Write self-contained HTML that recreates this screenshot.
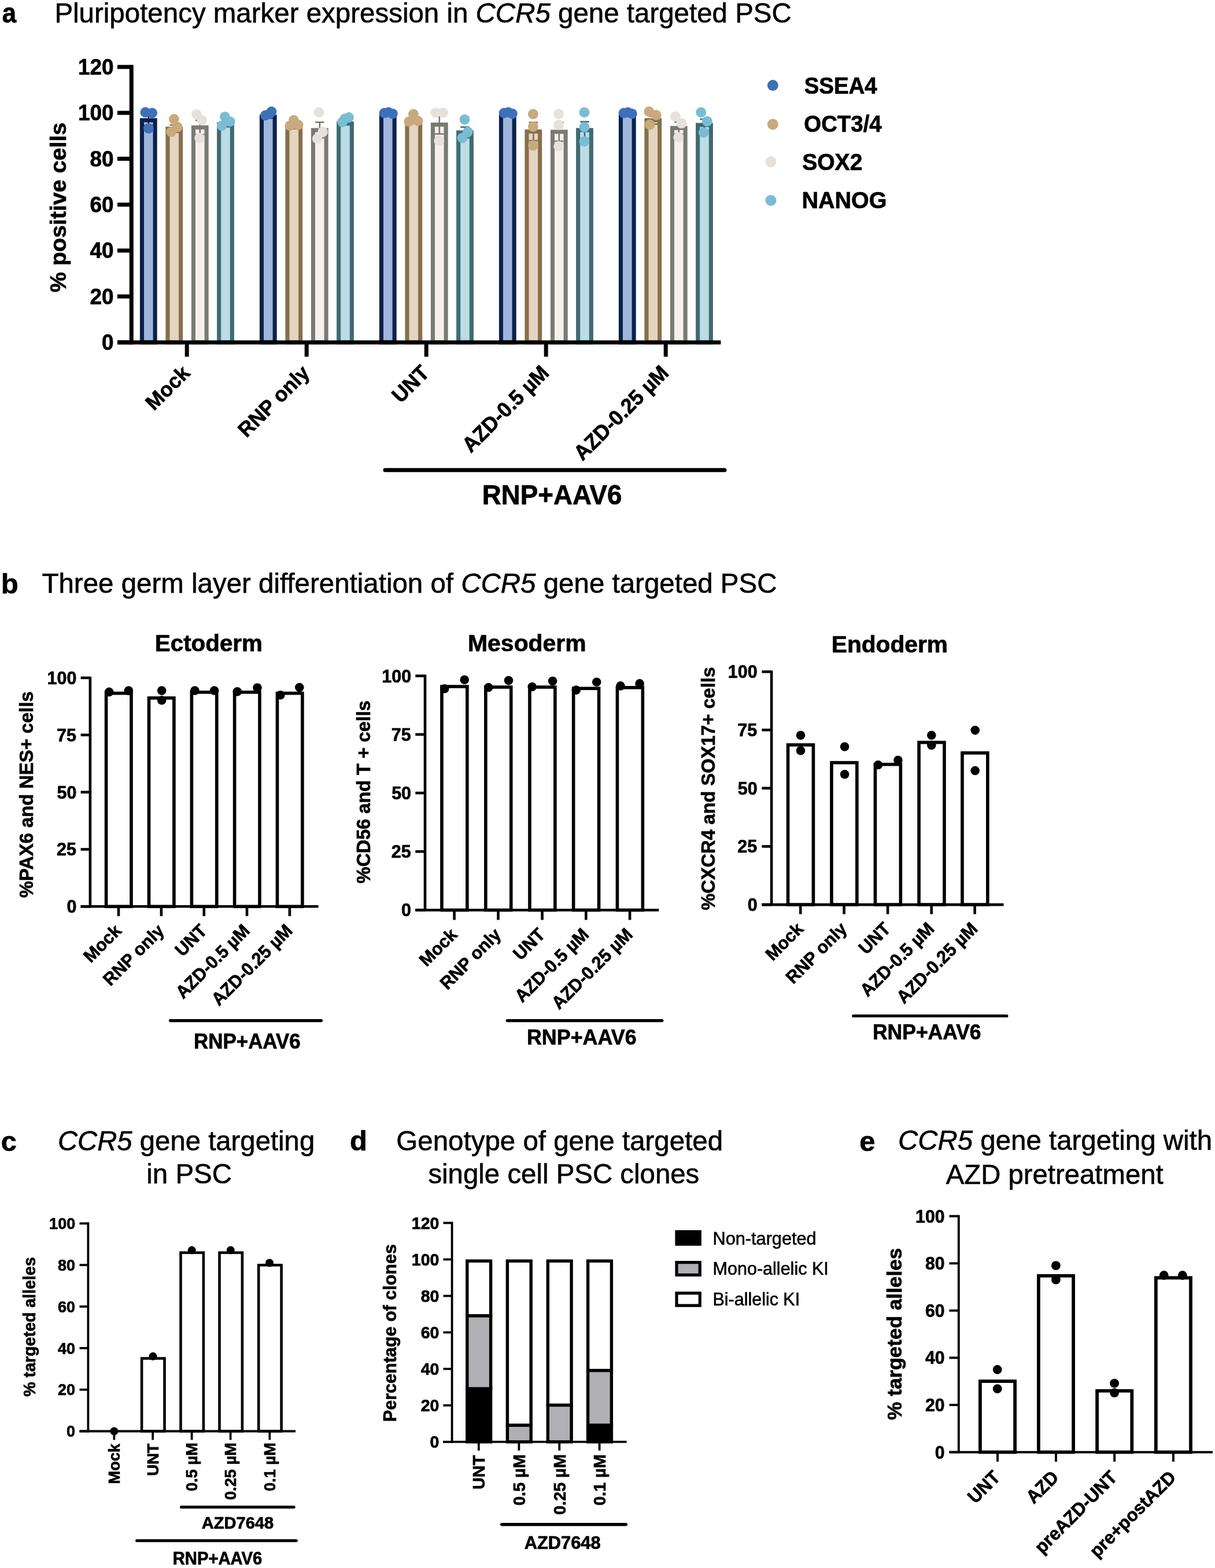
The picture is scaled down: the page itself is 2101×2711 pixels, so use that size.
<!DOCTYPE html>
<html><head><meta charset="utf-8"><title>Figure</title>
<style>html,body{margin:0;padding:0;background:#fff;}svg{display:block;}</style></head>
<body><svg width="2101" height="2711" viewBox="0 0 2101 2711" font-family="Liberation Sans, Arial, Helvetica, sans-serif" fill="#000">
<rect x="0" y="0" width="2101" height="2711" fill="#fff"/>
<text font-size="43.74" stroke="#000" stroke-width="0.7" transform="translate(3.69,39.00) scale(1,1.08)"><tspan font-weight="bold">a</tspan></text>
<text font-size="47.49" stroke="#000" stroke-width="0.6" transform="translate(94.40,39.00) scale(1,1.0065)">Pluripotency marker expression in <tspan font-style="italic">CCR5</tspan> gene targeted PSC</text>
<rect x="245.45" y="207.85" width="22.70" height="384.05" fill="#9fb6dc" stroke="#0c2149" stroke-width="7.1"/>
<rect x="289.95" y="222.55" width="22.70" height="369.35" fill="#e3d5c1" stroke="#86704a" stroke-width="7.1"/>
<rect x="334.45" y="220.25" width="22.70" height="371.65" fill="#f4f1ec" stroke="#7a7a74" stroke-width="7.1"/>
<rect x="378.65" y="214.85" width="22.70" height="377.05" fill="#bcdde6" stroke="#3f6b71" stroke-width="7.1"/>
<line x1="256.80" y1="198.78" x2="256.80" y2="216.92" stroke="#0c2149" stroke-width="2.6" stroke-linecap="butt"/>
<line x1="249.10" y1="198.78" x2="264.50" y2="198.78" stroke="#0c2149" stroke-width="2.6" stroke-linecap="butt"/>
<line x1="249.10" y1="216.92" x2="264.50" y2="216.92" stroke="#0c2149" stroke-width="2.6" stroke-linecap="butt"/>
<line x1="301.30" y1="216.17" x2="301.30" y2="228.93" stroke="#86704a" stroke-width="2.6" stroke-linecap="butt"/>
<line x1="293.60" y1="216.17" x2="309.00" y2="216.17" stroke="#86704a" stroke-width="2.6" stroke-linecap="butt"/>
<line x1="293.60" y1="228.93" x2="309.00" y2="228.93" stroke="#86704a" stroke-width="2.6" stroke-linecap="butt"/>
<line x1="345.80" y1="208.00" x2="345.80" y2="232.50" stroke="#7a7a74" stroke-width="2.6" stroke-linecap="butt"/>
<line x1="338.10" y1="208.00" x2="353.50" y2="208.00" stroke="#7a7a74" stroke-width="2.6" stroke-linecap="butt"/>
<line x1="338.10" y1="232.50" x2="353.50" y2="232.50" stroke="#7a7a74" stroke-width="2.6" stroke-linecap="butt"/>
<line x1="390.00" y1="210.40" x2="390.00" y2="219.30" stroke="#3f6b71" stroke-width="2.6" stroke-linecap="butt"/>
<line x1="382.30" y1="210.40" x2="397.70" y2="210.40" stroke="#3f6b71" stroke-width="2.6" stroke-linecap="butt"/>
<line x1="382.30" y1="219.30" x2="397.70" y2="219.30" stroke="#3f6b71" stroke-width="2.6" stroke-linecap="butt"/>
<circle cx="251.30" cy="194.20" r="8.9" fill="#3d70bb"/>
<circle cx="263.10" cy="195.40" r="8.9" fill="#3d70bb"/>
<circle cx="256.90" cy="222.00" r="8.9" fill="#3d70bb"/>
<circle cx="300.90" cy="206.00" r="8.9" fill="#c8aa7c"/>
<circle cx="306.80" cy="219.60" r="8.9" fill="#c8aa7c"/>
<circle cx="296.20" cy="227.90" r="8.9" fill="#c8aa7c"/>
<circle cx="339.90" cy="197.80" r="8.9" fill="#e6e1da"/>
<circle cx="349.30" cy="207.80" r="8.9" fill="#e6e1da"/>
<circle cx="345.20" cy="238.50" r="8.9" fill="#e6e1da"/>
<circle cx="388.90" cy="201.90" r="8.9" fill="#79bdd5"/>
<circle cx="397.70" cy="210.20" r="8.9" fill="#79bdd5"/>
<circle cx="383.60" cy="217.30" r="8.9" fill="#79bdd5"/>
<rect x="452.45" y="201.95" width="22.70" height="389.95" fill="#9fb6dc" stroke="#0c2149" stroke-width="7.1"/>
<rect x="496.95" y="219.55" width="22.70" height="372.35" fill="#e3d5c1" stroke="#86704a" stroke-width="7.1"/>
<rect x="541.45" y="224.95" width="22.70" height="366.95" fill="#f4f1ec" stroke="#7a7a74" stroke-width="7.1"/>
<rect x="585.65" y="213.55" width="22.70" height="378.35" fill="#bcdde6" stroke="#3f6b71" stroke-width="7.1"/>
<line x1="463.80" y1="200.06" x2="463.80" y2="203.84" stroke="#0c2149" stroke-width="2.6" stroke-linecap="butt"/>
<line x1="456.10" y1="200.06" x2="471.50" y2="200.06" stroke="#0c2149" stroke-width="2.6" stroke-linecap="butt"/>
<line x1="456.10" y1="203.84" x2="471.50" y2="203.84" stroke="#0c2149" stroke-width="2.6" stroke-linecap="butt"/>
<line x1="508.30" y1="216.58" x2="508.30" y2="222.52" stroke="#86704a" stroke-width="2.6" stroke-linecap="butt"/>
<line x1="500.60" y1="216.58" x2="516.00" y2="216.58" stroke="#86704a" stroke-width="2.6" stroke-linecap="butt"/>
<line x1="500.60" y1="222.52" x2="516.00" y2="222.52" stroke="#86704a" stroke-width="2.6" stroke-linecap="butt"/>
<line x1="552.80" y1="211.32" x2="552.80" y2="238.58" stroke="#7a7a74" stroke-width="2.6" stroke-linecap="butt"/>
<line x1="545.10" y1="211.32" x2="560.50" y2="211.32" stroke="#7a7a74" stroke-width="2.6" stroke-linecap="butt"/>
<line x1="545.10" y1="238.58" x2="560.50" y2="238.58" stroke="#7a7a74" stroke-width="2.6" stroke-linecap="butt"/>
<line x1="597.00" y1="211.18" x2="597.00" y2="215.92" stroke="#3f6b71" stroke-width="2.6" stroke-linecap="butt"/>
<line x1="589.30" y1="211.18" x2="604.70" y2="211.18" stroke="#3f6b71" stroke-width="2.6" stroke-linecap="butt"/>
<line x1="589.30" y1="215.92" x2="604.70" y2="215.92" stroke="#3f6b71" stroke-width="2.6" stroke-linecap="butt"/>
<circle cx="458.90" cy="199.50" r="8.9" fill="#3d70bb"/>
<circle cx="469.50" cy="193.00" r="8.9" fill="#3d70bb"/>
<circle cx="466.00" cy="197.00" r="8.9" fill="#3d70bb"/>
<circle cx="507.90" cy="207.80" r="8.9" fill="#c8aa7c"/>
<circle cx="515.60" cy="216.00" r="8.9" fill="#c8aa7c"/>
<circle cx="501.40" cy="217.30" r="8.9" fill="#c8aa7c"/>
<circle cx="551.60" cy="194.20" r="8.9" fill="#e6e1da"/>
<circle cx="558.10" cy="227.90" r="8.9" fill="#e6e1da"/>
<circle cx="548.70" cy="239.70" r="8.9" fill="#e6e1da"/>
<circle cx="596.50" cy="205.40" r="8.9" fill="#79bdd5"/>
<circle cx="603.00" cy="203.00" r="8.9" fill="#79bdd5"/>
<circle cx="592.00" cy="211.00" r="8.9" fill="#79bdd5"/>
<rect x="659.45" y="197.15" width="22.70" height="394.75" fill="#9fb6dc" stroke="#0c2149" stroke-width="7.1"/>
<rect x="703.95" y="208.35" width="22.70" height="383.55" fill="#e3d5c1" stroke="#86704a" stroke-width="7.1"/>
<rect x="748.45" y="215.45" width="22.70" height="376.45" fill="#f4f1ec" stroke="#7a7a74" stroke-width="7.1"/>
<rect x="792.65" y="229.05" width="22.70" height="362.85" fill="#bcdde6" stroke="#3f6b71" stroke-width="7.1"/>
<line x1="715.30" y1="204.20" x2="715.30" y2="212.50" stroke="#86704a" stroke-width="2.6" stroke-linecap="butt"/>
<line x1="707.60" y1="204.20" x2="723.00" y2="204.20" stroke="#86704a" stroke-width="2.6" stroke-linecap="butt"/>
<line x1="707.60" y1="212.50" x2="723.00" y2="212.50" stroke="#86704a" stroke-width="2.6" stroke-linecap="butt"/>
<line x1="759.80" y1="199.32" x2="759.80" y2="231.58" stroke="#7a7a74" stroke-width="2.6" stroke-linecap="butt"/>
<line x1="752.10" y1="199.32" x2="767.50" y2="199.32" stroke="#7a7a74" stroke-width="2.6" stroke-linecap="butt"/>
<line x1="752.10" y1="231.58" x2="767.50" y2="231.58" stroke="#7a7a74" stroke-width="2.6" stroke-linecap="butt"/>
<line x1="804.00" y1="219.67" x2="804.00" y2="238.43" stroke="#3f6b71" stroke-width="2.6" stroke-linecap="butt"/>
<line x1="796.30" y1="219.67" x2="811.70" y2="219.67" stroke="#3f6b71" stroke-width="2.6" stroke-linecap="butt"/>
<line x1="796.30" y1="238.43" x2="811.70" y2="238.43" stroke="#3f6b71" stroke-width="2.6" stroke-linecap="butt"/>
<circle cx="664.70" cy="195.40" r="8.9" fill="#3d70bb"/>
<circle cx="671.80" cy="194.20" r="8.9" fill="#3d70bb"/>
<circle cx="678.90" cy="196.60" r="8.9" fill="#3d70bb"/>
<circle cx="714.90" cy="197.20" r="8.9" fill="#c8aa7c"/>
<circle cx="707.20" cy="210.20" r="8.9" fill="#c8aa7c"/>
<circle cx="722.60" cy="209.00" r="8.9" fill="#c8aa7c"/>
<circle cx="753.30" cy="194.80" r="8.9" fill="#e6e1da"/>
<circle cx="766.30" cy="194.80" r="8.9" fill="#e6e1da"/>
<circle cx="759.20" cy="243.20" r="8.9" fill="#e6e1da"/>
<circle cx="803.50" cy="206.60" r="8.9" fill="#79bdd5"/>
<circle cx="808.80" cy="227.90" r="8.9" fill="#79bdd5"/>
<circle cx="799.40" cy="238.50" r="8.9" fill="#79bdd5"/>
<rect x="866.45" y="197.15" width="22.70" height="394.75" fill="#9fb6dc" stroke="#0c2149" stroke-width="7.1"/>
<rect x="910.95" y="227.35" width="22.70" height="364.55" fill="#e3d5c1" stroke="#86704a" stroke-width="7.1"/>
<rect x="955.45" y="227.85" width="22.70" height="364.05" fill="#f4f1ec" stroke="#7a7a74" stroke-width="7.1"/>
<rect x="999.65" y="224.95" width="22.70" height="366.95" fill="#bcdde6" stroke="#3f6b71" stroke-width="7.1"/>
<line x1="922.30" y1="211.57" x2="922.30" y2="243.13" stroke="#86704a" stroke-width="2.6" stroke-linecap="butt"/>
<line x1="914.60" y1="211.57" x2="930.00" y2="211.57" stroke="#86704a" stroke-width="2.6" stroke-linecap="butt"/>
<line x1="914.60" y1="243.13" x2="930.00" y2="243.13" stroke="#86704a" stroke-width="2.6" stroke-linecap="butt"/>
<line x1="966.80" y1="211.55" x2="966.80" y2="244.15" stroke="#7a7a74" stroke-width="2.6" stroke-linecap="butt"/>
<line x1="959.10" y1="211.55" x2="974.50" y2="211.55" stroke="#7a7a74" stroke-width="2.6" stroke-linecap="butt"/>
<line x1="959.10" y1="244.15" x2="974.50" y2="244.15" stroke="#7a7a74" stroke-width="2.6" stroke-linecap="butt"/>
<line x1="1011.00" y1="210.46" x2="1011.00" y2="239.44" stroke="#3f6b71" stroke-width="2.6" stroke-linecap="butt"/>
<line x1="1003.30" y1="210.46" x2="1018.70" y2="210.46" stroke="#3f6b71" stroke-width="2.6" stroke-linecap="butt"/>
<line x1="1003.30" y1="239.44" x2="1018.70" y2="239.44" stroke="#3f6b71" stroke-width="2.6" stroke-linecap="butt"/>
<circle cx="871.70" cy="195.40" r="8.9" fill="#3d70bb"/>
<circle cx="878.80" cy="194.20" r="8.9" fill="#3d70bb"/>
<circle cx="885.90" cy="196.60" r="8.9" fill="#3d70bb"/>
<circle cx="921.90" cy="197.20" r="8.9" fill="#c8aa7c"/>
<circle cx="921.90" cy="219.00" r="8.9" fill="#c8aa7c"/>
<circle cx="921.90" cy="251.50" r="8.9" fill="#c8aa7c"/>
<circle cx="966.20" cy="197.20" r="8.9" fill="#e6e1da"/>
<circle cx="966.20" cy="216.00" r="8.9" fill="#e6e1da"/>
<circle cx="966.20" cy="252.70" r="8.9" fill="#e6e1da"/>
<circle cx="1010.50" cy="194.20" r="8.9" fill="#79bdd5"/>
<circle cx="1010.50" cy="219.60" r="8.9" fill="#79bdd5"/>
<circle cx="1010.50" cy="244.40" r="8.9" fill="#79bdd5"/>
<rect x="1073.45" y="197.15" width="22.70" height="394.75" fill="#9fb6dc" stroke="#0c2149" stroke-width="7.1"/>
<rect x="1117.95" y="207.85" width="22.70" height="384.05" fill="#e3d5c1" stroke="#86704a" stroke-width="7.1"/>
<rect x="1162.45" y="221.35" width="22.70" height="370.55" fill="#f4f1ec" stroke="#7a7a74" stroke-width="7.1"/>
<rect x="1206.65" y="216.05" width="22.70" height="375.85" fill="#bcdde6" stroke="#3f6b71" stroke-width="7.1"/>
<line x1="1129.30" y1="201.11" x2="1129.30" y2="214.59" stroke="#86704a" stroke-width="2.6" stroke-linecap="butt"/>
<line x1="1121.60" y1="201.11" x2="1137.00" y2="201.11" stroke="#86704a" stroke-width="2.6" stroke-linecap="butt"/>
<line x1="1121.60" y1="214.59" x2="1137.00" y2="214.59" stroke="#86704a" stroke-width="2.6" stroke-linecap="butt"/>
<line x1="1173.80" y1="210.75" x2="1173.80" y2="231.95" stroke="#7a7a74" stroke-width="2.6" stroke-linecap="butt"/>
<line x1="1166.10" y1="210.75" x2="1181.50" y2="210.75" stroke="#7a7a74" stroke-width="2.6" stroke-linecap="butt"/>
<line x1="1166.10" y1="231.95" x2="1181.50" y2="231.95" stroke="#7a7a74" stroke-width="2.6" stroke-linecap="butt"/>
<line x1="1218.00" y1="205.95" x2="1218.00" y2="226.15" stroke="#3f6b71" stroke-width="2.6" stroke-linecap="butt"/>
<line x1="1210.30" y1="205.95" x2="1225.70" y2="205.95" stroke="#3f6b71" stroke-width="2.6" stroke-linecap="butt"/>
<line x1="1210.30" y1="226.15" x2="1225.70" y2="226.15" stroke="#3f6b71" stroke-width="2.6" stroke-linecap="butt"/>
<circle cx="1078.70" cy="195.40" r="8.9" fill="#3d70bb"/>
<circle cx="1085.80" cy="194.20" r="8.9" fill="#3d70bb"/>
<circle cx="1092.90" cy="196.60" r="8.9" fill="#3d70bb"/>
<circle cx="1122.40" cy="193.00" r="8.9" fill="#c8aa7c"/>
<circle cx="1134.80" cy="198.90" r="8.9" fill="#c8aa7c"/>
<circle cx="1123.60" cy="215.50" r="8.9" fill="#c8aa7c"/>
<circle cx="1167.90" cy="201.30" r="8.9" fill="#e6e1da"/>
<circle cx="1178.50" cy="213.10" r="8.9" fill="#e6e1da"/>
<circle cx="1173.20" cy="237.30" r="8.9" fill="#e6e1da"/>
<circle cx="1212.20" cy="194.20" r="8.9" fill="#79bdd5"/>
<circle cx="1222.80" cy="209.60" r="8.9" fill="#79bdd5"/>
<circle cx="1216.90" cy="229.10" r="8.9" fill="#79bdd5"/>
<line x1="227.30" y1="112.20" x2="227.30" y2="595.40" stroke="#000" stroke-width="7" stroke-linecap="butt"/>
<line x1="203.00" y1="591.90" x2="1246.40" y2="591.90" stroke="#000" stroke-width="7" stroke-linecap="butt"/>
<line x1="203.00" y1="591.90" x2="227.30" y2="591.90" stroke="#000" stroke-width="7" stroke-linecap="butt"/>
<text font-size="37.00" stroke="#000" stroke-width="0.7" transform="translate(175.94,605.18) scale(1,1.04)"><tspan font-weight="bold">0</tspan></text>
<line x1="203.00" y1="512.54" x2="227.30" y2="512.54" stroke="#000" stroke-width="7" stroke-linecap="butt"/>
<text font-size="37.00" stroke="#000" stroke-width="0.7" transform="translate(155.41,525.82) scale(1,1.04)"><tspan font-weight="bold">20</tspan></text>
<line x1="203.00" y1="433.18" x2="227.30" y2="433.18" stroke="#000" stroke-width="7" stroke-linecap="butt"/>
<text font-size="37.00" stroke="#000" stroke-width="0.7" transform="translate(155.41,446.46) scale(1,1.04)"><tspan font-weight="bold">40</tspan></text>
<line x1="203.00" y1="353.82" x2="227.30" y2="353.82" stroke="#000" stroke-width="7" stroke-linecap="butt"/>
<text font-size="37.00" stroke="#000" stroke-width="0.7" transform="translate(155.41,367.10) scale(1,1.04)"><tspan font-weight="bold">60</tspan></text>
<line x1="203.00" y1="274.46" x2="227.30" y2="274.46" stroke="#000" stroke-width="7" stroke-linecap="butt"/>
<text font-size="37.00" stroke="#000" stroke-width="0.7" transform="translate(155.41,287.74) scale(1,1.04)"><tspan font-weight="bold">80</tspan></text>
<line x1="203.00" y1="195.10" x2="227.30" y2="195.10" stroke="#000" stroke-width="7" stroke-linecap="butt"/>
<text font-size="37.00" stroke="#000" stroke-width="0.7" transform="translate(134.88,208.38) scale(1,1.04)"><tspan font-weight="bold">100</tspan></text>
<line x1="203.00" y1="115.74" x2="227.30" y2="115.74" stroke="#000" stroke-width="7" stroke-linecap="butt"/>
<text font-size="37.00" stroke="#000" stroke-width="0.7" transform="translate(134.88,129.02) scale(1,1.04)"><tspan font-weight="bold">120</tspan></text>
<line x1="323.20" y1="591.90" x2="323.20" y2="616.70" stroke="#000" stroke-width="7" stroke-linecap="butt"/>
<line x1="530.20" y1="591.90" x2="530.20" y2="616.70" stroke="#000" stroke-width="7" stroke-linecap="butt"/>
<line x1="737.20" y1="591.90" x2="737.20" y2="616.70" stroke="#000" stroke-width="7" stroke-linecap="butt"/>
<line x1="944.20" y1="591.90" x2="944.20" y2="616.70" stroke="#000" stroke-width="7" stroke-linecap="butt"/>
<line x1="1151.20" y1="591.90" x2="1151.20" y2="616.70" stroke="#000" stroke-width="7" stroke-linecap="butt"/>
<text font-size="35.50" text-anchor="end" stroke="#000" stroke-width="0.7" transform="translate(330.40,647.00) rotate(-45) scale(1,1.01)"><tspan font-weight="bold">Mock</tspan></text>
<text font-size="35.50" text-anchor="end" stroke="#000" stroke-width="0.7" transform="translate(537.40,647.00) rotate(-45) scale(1,1.0171)"><tspan font-weight="bold">RNP only</tspan></text>
<text font-size="35.50" text-anchor="end" stroke="#000" stroke-width="0.7" transform="translate(744.40,647.00) rotate(-45) scale(1,1.04)"><tspan font-weight="bold">UNT</tspan></text>
<text font-size="35.50" text-anchor="end" stroke="#000" stroke-width="0.7" transform="translate(951.40,647.00) rotate(-45) scale(1,1.0356)"><tspan font-weight="bold">AZD-0.5 µM</tspan></text>
<text font-size="35.50" text-anchor="end" stroke="#000" stroke-width="0.7" transform="translate(1158.40,647.00) rotate(-45) scale(1,1.036)"><tspan font-weight="bold">AZD-0.25 µM</tspan></text>
<line x1="666.00" y1="812.80" x2="1253.00" y2="812.80" stroke="#000" stroke-width="7" stroke-linecap="round"/>
<text font-size="45.74" stroke="#000" stroke-width="0.7" transform="translate(833.63,872.20) scale(1,1.04)"><tspan font-weight="bold">RNP+AAV6</tspan></text>
<text font-size="39.46" stroke="#000" stroke-width="0.7" transform="translate(114.40,505.59) rotate(-90) scale(1,1.0029)"><tspan font-weight="bold">% positive cells</tspan></text>
<circle cx="1336.40" cy="147.60" r="9.5" fill="#3d70bb"/>
<text font-size="38.46" stroke="#000" stroke-width="0.7" transform="translate(1390.65,162.00) scale(1,1.04)"><tspan font-weight="bold">SSEA4</tspan></text>
<circle cx="1336.40" cy="214.90" r="9.5" fill="#c8aa7c"/>
<text font-size="38.41" stroke="#000" stroke-width="0.7" transform="translate(1390.26,228.30) scale(1,1.04)"><tspan font-weight="bold">OCT3/4</tspan></text>
<circle cx="1333.00" cy="279.70" r="9.5" fill="#e6e1da"/>
<text font-size="39.08" stroke="#000" stroke-width="0.7" transform="translate(1387.13,293.90) scale(1,1.04)"><tspan font-weight="bold">SOX2</tspan></text>
<circle cx="1333.00" cy="346.50" r="9.5" fill="#79bdd5"/>
<text font-size="39.50" stroke="#000" stroke-width="0.7" transform="translate(1386.53,360.30) scale(1,1.04)"><tspan font-weight="bold">NANOG</tspan></text>
<text font-size="49.11" stroke="#000" stroke-width="0.7" transform="translate(1.81,1025.50) scale(1,0.965)"><tspan font-weight="bold">b</tspan></text>
<text font-size="47.49" stroke="#000" stroke-width="0.6" transform="translate(72.45,1025.00) scale(1,1.0064)">Three germ layer differentiation of <tspan font-style="italic">CCR5</tspan> gene targeted PSC</text>
<text font-size="40.38" stroke="#000" stroke-width="0.7" transform="translate(267.78,1126.30) scale(1,1.005)"><tspan font-weight="bold">Ectoderm</tspan></text>
<rect x="183.60" y="1198.60" width="43.40" height="368.70" fill="#fff" stroke="#000" stroke-width="5.6"/>
<rect x="257.50" y="1206.80" width="43.40" height="360.50" fill="#fff" stroke="#000" stroke-width="5.6"/>
<rect x="331.40" y="1196.80" width="43.40" height="370.50" fill="#fff" stroke="#000" stroke-width="5.6"/>
<rect x="405.60" y="1196.80" width="43.40" height="370.50" fill="#fff" stroke="#000" stroke-width="5.6"/>
<rect x="479.50" y="1198.60" width="43.40" height="368.70" fill="#fff" stroke="#000" stroke-width="5.6"/>
<circle cx="188.70" cy="1196.40" r="7.8" fill="#000"/>
<circle cx="222.40" cy="1194.10" r="7.8" fill="#000"/>
<circle cx="279.70" cy="1194.10" r="7.8" fill="#000"/>
<circle cx="279.70" cy="1210.70" r="7.8" fill="#000"/>
<circle cx="336.90" cy="1194.00" r="7.8" fill="#000"/>
<circle cx="370.60" cy="1194.00" r="7.8" fill="#000"/>
<circle cx="410.30" cy="1195.80" r="7.8" fill="#000"/>
<circle cx="445.00" cy="1189.00" r="7.8" fill="#000"/>
<circle cx="484.80" cy="1201.70" r="7.8" fill="#000"/>
<circle cx="517.80" cy="1188.50" r="7.8" fill="#000"/>
<line x1="155.90" y1="1169.90" x2="155.90" y2="1569.30" stroke="#000" stroke-width="4.6" stroke-linecap="butt"/>
<line x1="139.60" y1="1567.30" x2="550.50" y2="1567.30" stroke="#000" stroke-width="4.6" stroke-linecap="butt"/>
<line x1="139.60" y1="1567.30" x2="155.90" y2="1567.30" stroke="#000" stroke-width="4.6" stroke-linecap="butt"/>
<text font-size="30.50" stroke="#000" stroke-width="0.7" transform="translate(115.39,1578.24) scale(1,1.04)"><tspan font-weight="bold">0</tspan></text>
<line x1="139.60" y1="1468.45" x2="155.90" y2="1468.45" stroke="#000" stroke-width="4.6" stroke-linecap="butt"/>
<text font-size="30.50" stroke="#000" stroke-width="0.7" transform="translate(98.01,1479.39) scale(1,1.04)"><tspan font-weight="bold">25</tspan></text>
<line x1="139.60" y1="1369.60" x2="155.90" y2="1369.60" stroke="#000" stroke-width="4.6" stroke-linecap="butt"/>
<text font-size="30.50" stroke="#000" stroke-width="0.7" transform="translate(98.46,1380.54) scale(1,1.04)"><tspan font-weight="bold">50</tspan></text>
<line x1="139.60" y1="1270.75" x2="155.90" y2="1270.75" stroke="#000" stroke-width="4.6" stroke-linecap="butt"/>
<text font-size="30.50" stroke="#000" stroke-width="0.7" transform="translate(98.01,1281.53) scale(1,1.04)"><tspan font-weight="bold">75</tspan></text>
<line x1="139.60" y1="1171.90" x2="155.90" y2="1171.90" stroke="#000" stroke-width="4.6" stroke-linecap="butt"/>
<text font-size="30.50" stroke="#000" stroke-width="0.7" transform="translate(81.54,1182.84) scale(1,1.04)"><tspan font-weight="bold">100</tspan></text>
<line x1="205.00" y1="1567.30" x2="205.00" y2="1583.90" stroke="#000" stroke-width="4.6" stroke-linecap="butt"/>
<line x1="278.90" y1="1567.30" x2="278.90" y2="1583.90" stroke="#000" stroke-width="4.6" stroke-linecap="butt"/>
<line x1="352.80" y1="1567.30" x2="352.80" y2="1583.90" stroke="#000" stroke-width="4.6" stroke-linecap="butt"/>
<line x1="427.00" y1="1567.30" x2="427.00" y2="1583.90" stroke="#000" stroke-width="4.6" stroke-linecap="butt"/>
<line x1="500.90" y1="1567.30" x2="500.90" y2="1583.90" stroke="#000" stroke-width="4.6" stroke-linecap="butt"/>
<text font-size="30.30" text-anchor="end" stroke="#000" stroke-width="0.7" transform="translate(211.70,1611.20) rotate(-45) scale(1,1.01)"><tspan font-weight="bold">Mock</tspan></text>
<text font-size="30.30" text-anchor="end" stroke="#000" stroke-width="0.7" transform="translate(285.60,1611.20) rotate(-45) scale(1,1.0171)"><tspan font-weight="bold">RNP only</tspan></text>
<text font-size="30.30" text-anchor="end" stroke="#000" stroke-width="0.7" transform="translate(359.50,1611.20) rotate(-45) scale(1,1.04)"><tspan font-weight="bold">UNT</tspan></text>
<text font-size="30.30" text-anchor="end" stroke="#000" stroke-width="0.7" transform="translate(433.70,1611.20) rotate(-45) scale(1,1.0356)"><tspan font-weight="bold">AZD-0.5 µM</tspan></text>
<text font-size="30.30" text-anchor="end" stroke="#000" stroke-width="0.7" transform="translate(507.60,1611.20) rotate(-45) scale(1,1.036)"><tspan font-weight="bold">AZD-0.25 µM</tspan></text>
<line x1="294.60" y1="1764.60" x2="555.50" y2="1764.60" stroke="#000" stroke-width="5.2" stroke-linecap="round"/>
<text font-size="34.93" stroke="#000" stroke-width="0.7" transform="translate(335.03,1813.30) scale(1,1.04)"><tspan font-weight="bold">RNP+AAV6</tspan></text>
<text font-size="32.76" stroke="#000" stroke-width="0.7" transform="translate(57.40,1552.32) rotate(-90) scale(1,1.0212)"><tspan font-weight="bold">%PAX6 and NES+ cells</tspan></text>
<text font-size="40.92" stroke="#000" stroke-width="0.7" transform="translate(809.04,1126.30) scale(1,1.005)"><tspan font-weight="bold">Mesoderm</tspan></text>
<rect x="763.95" y="1187.00" width="43.90" height="386.50" fill="#fff" stroke="#000" stroke-width="5.6"/>
<rect x="839.85" y="1188.00" width="43.90" height="385.50" fill="#fff" stroke="#000" stroke-width="5.6"/>
<rect x="915.95" y="1188.00" width="43.90" height="385.50" fill="#fff" stroke="#000" stroke-width="5.6"/>
<rect x="991.65" y="1190.30" width="43.90" height="383.20" fill="#fff" stroke="#000" stroke-width="5.6"/>
<rect x="1067.45" y="1188.80" width="43.90" height="384.70" fill="#fff" stroke="#000" stroke-width="5.6"/>
<circle cx="768.70" cy="1190.80" r="7.8" fill="#000"/>
<circle cx="803.20" cy="1175.30" r="7.8" fill="#000"/>
<circle cx="844.80" cy="1188.50" r="7.8" fill="#000"/>
<circle cx="879.50" cy="1176.60" r="7.8" fill="#000"/>
<circle cx="920.20" cy="1187.50" r="7.8" fill="#000"/>
<circle cx="955.60" cy="1177.60" r="7.8" fill="#000"/>
<circle cx="996.30" cy="1193.10" r="7.8" fill="#000"/>
<circle cx="1031.70" cy="1179.20" r="7.8" fill="#000"/>
<circle cx="1073.00" cy="1185.90" r="7.8" fill="#000"/>
<circle cx="1106.10" cy="1181.90" r="7.8" fill="#000"/>
<line x1="735.00" y1="1166.60" x2="735.00" y2="1575.50" stroke="#000" stroke-width="4.6" stroke-linecap="butt"/>
<line x1="718.30" y1="1573.50" x2="1139.30" y2="1573.50" stroke="#000" stroke-width="4.6" stroke-linecap="butt"/>
<line x1="718.30" y1="1573.50" x2="735.00" y2="1573.50" stroke="#000" stroke-width="4.6" stroke-linecap="butt"/>
<text font-size="30.50" stroke="#000" stroke-width="0.7" transform="translate(694.09,1584.44) scale(1,1.04)"><tspan font-weight="bold">0</tspan></text>
<line x1="718.30" y1="1472.27" x2="735.00" y2="1472.27" stroke="#000" stroke-width="4.6" stroke-linecap="butt"/>
<text font-size="30.50" stroke="#000" stroke-width="0.7" transform="translate(676.71,1483.22) scale(1,1.04)"><tspan font-weight="bold">25</tspan></text>
<line x1="718.30" y1="1371.05" x2="735.00" y2="1371.05" stroke="#000" stroke-width="4.6" stroke-linecap="butt"/>
<text font-size="30.50" stroke="#000" stroke-width="0.7" transform="translate(677.16,1381.99) scale(1,1.04)"><tspan font-weight="bold">50</tspan></text>
<line x1="718.30" y1="1269.82" x2="735.00" y2="1269.82" stroke="#000" stroke-width="4.6" stroke-linecap="butt"/>
<text font-size="30.50" stroke="#000" stroke-width="0.7" transform="translate(676.71,1280.61) scale(1,1.04)"><tspan font-weight="bold">75</tspan></text>
<line x1="718.30" y1="1168.60" x2="735.00" y2="1168.60" stroke="#000" stroke-width="4.6" stroke-linecap="butt"/>
<text font-size="30.50" stroke="#000" stroke-width="0.7" transform="translate(660.24,1179.54) scale(1,1.04)"><tspan font-weight="bold">100</tspan></text>
<line x1="785.60" y1="1573.50" x2="785.60" y2="1590.50" stroke="#000" stroke-width="4.6" stroke-linecap="butt"/>
<line x1="861.50" y1="1573.50" x2="861.50" y2="1590.50" stroke="#000" stroke-width="4.6" stroke-linecap="butt"/>
<line x1="937.60" y1="1573.50" x2="937.60" y2="1590.50" stroke="#000" stroke-width="4.6" stroke-linecap="butt"/>
<line x1="1013.30" y1="1573.50" x2="1013.30" y2="1590.50" stroke="#000" stroke-width="4.6" stroke-linecap="butt"/>
<line x1="1089.10" y1="1573.50" x2="1089.10" y2="1590.50" stroke="#000" stroke-width="4.6" stroke-linecap="butt"/>
<text font-size="30.30" text-anchor="end" stroke="#000" stroke-width="0.7" transform="translate(792.30,1617.80) rotate(-45) scale(1,1.01)"><tspan font-weight="bold">Mock</tspan></text>
<text font-size="30.30" text-anchor="end" stroke="#000" stroke-width="0.7" transform="translate(868.20,1617.80) rotate(-45) scale(1,1.0171)"><tspan font-weight="bold">RNP only</tspan></text>
<text font-size="30.30" text-anchor="end" stroke="#000" stroke-width="0.7" transform="translate(944.30,1617.80) rotate(-45) scale(1,1.04)"><tspan font-weight="bold">UNT</tspan></text>
<text font-size="30.30" text-anchor="end" stroke="#000" stroke-width="0.7" transform="translate(1020.00,1617.80) rotate(-45) scale(1,1.0356)"><tspan font-weight="bold">AZD-0.5 µM</tspan></text>
<text font-size="30.30" text-anchor="end" stroke="#000" stroke-width="0.7" transform="translate(1095.80,1617.80) rotate(-45) scale(1,1.036)"><tspan font-weight="bold">AZD-0.25 µM</tspan></text>
<line x1="877.30" y1="1764.60" x2="1144.80" y2="1764.60" stroke="#000" stroke-width="5.2" stroke-linecap="round"/>
<text font-size="35.86" stroke="#000" stroke-width="0.7" transform="translate(910.97,1805.80) scale(1,1.04)"><tspan font-weight="bold">RNP+AAV6</tspan></text>
<text font-size="32.44" stroke="#000" stroke-width="0.7" transform="translate(639.50,1527.41) rotate(-90) scale(1,1.0187)"><tspan font-weight="bold">%CD56 and T + cells</tspan></text>
<text font-size="40.71" stroke="#000" stroke-width="0.7" transform="translate(1437.75,1128.00) scale(1,1.005)"><tspan font-weight="bold">Endoderm</tspan></text>
<rect x="1362.55" y="1287.90" width="43.90" height="276.20" fill="#fff" stroke="#000" stroke-width="5.6"/>
<rect x="1437.95" y="1318.60" width="43.90" height="245.50" fill="#fff" stroke="#000" stroke-width="5.6"/>
<rect x="1513.45" y="1321.60" width="43.90" height="242.50" fill="#fff" stroke="#000" stroke-width="5.6"/>
<rect x="1589.05" y="1283.60" width="43.90" height="280.50" fill="#fff" stroke="#000" stroke-width="5.6"/>
<rect x="1663.95" y="1301.80" width="43.90" height="262.30" fill="#fff" stroke="#000" stroke-width="5.6"/>
<circle cx="1384.50" cy="1271.20" r="7.8" fill="#000"/>
<circle cx="1384.50" cy="1297.70" r="7.8" fill="#000"/>
<circle cx="1460.60" cy="1291.00" r="7.8" fill="#000"/>
<circle cx="1460.60" cy="1338.70" r="7.8" fill="#000"/>
<circle cx="1518.50" cy="1322.50" r="7.8" fill="#000"/>
<circle cx="1552.90" cy="1314.20" r="7.8" fill="#000"/>
<circle cx="1610.80" cy="1271.20" r="7.8" fill="#000"/>
<circle cx="1610.80" cy="1288.40" r="7.8" fill="#000"/>
<circle cx="1686.20" cy="1262.60" r="7.8" fill="#000"/>
<circle cx="1686.20" cy="1332.40" r="7.8" fill="#000"/>
<line x1="1334.10" y1="1159.40" x2="1334.10" y2="1566.10" stroke="#000" stroke-width="4.6" stroke-linecap="butt"/>
<line x1="1317.40" y1="1564.10" x2="1735.50" y2="1564.10" stroke="#000" stroke-width="4.6" stroke-linecap="butt"/>
<line x1="1317.40" y1="1564.10" x2="1334.10" y2="1564.10" stroke="#000" stroke-width="4.6" stroke-linecap="butt"/>
<text font-size="30.50" stroke="#000" stroke-width="0.7" transform="translate(1292.69,1575.04) scale(1,1.04)"><tspan font-weight="bold">0</tspan></text>
<line x1="1317.40" y1="1463.42" x2="1334.10" y2="1463.42" stroke="#000" stroke-width="4.6" stroke-linecap="butt"/>
<text font-size="30.50" stroke="#000" stroke-width="0.7" transform="translate(1275.31,1474.37) scale(1,1.04)"><tspan font-weight="bold">25</tspan></text>
<line x1="1317.40" y1="1362.75" x2="1334.10" y2="1362.75" stroke="#000" stroke-width="4.6" stroke-linecap="butt"/>
<text font-size="30.50" stroke="#000" stroke-width="0.7" transform="translate(1275.77,1373.69) scale(1,1.04)"><tspan font-weight="bold">50</tspan></text>
<line x1="1317.40" y1="1262.08" x2="1334.10" y2="1262.08" stroke="#000" stroke-width="4.6" stroke-linecap="butt"/>
<text font-size="30.50" stroke="#000" stroke-width="0.7" transform="translate(1275.31,1272.86) scale(1,1.04)"><tspan font-weight="bold">75</tspan></text>
<line x1="1317.40" y1="1161.40" x2="1334.10" y2="1161.40" stroke="#000" stroke-width="4.6" stroke-linecap="butt"/>
<text font-size="30.50" stroke="#000" stroke-width="0.7" transform="translate(1258.84,1172.34) scale(1,1.04)"><tspan font-weight="bold">100</tspan></text>
<line x1="1384.20" y1="1564.10" x2="1384.20" y2="1580.50" stroke="#000" stroke-width="4.6" stroke-linecap="butt"/>
<line x1="1459.60" y1="1564.10" x2="1459.60" y2="1580.50" stroke="#000" stroke-width="4.6" stroke-linecap="butt"/>
<line x1="1535.10" y1="1564.10" x2="1535.10" y2="1580.50" stroke="#000" stroke-width="4.6" stroke-linecap="butt"/>
<line x1="1610.70" y1="1564.10" x2="1610.70" y2="1580.50" stroke="#000" stroke-width="4.6" stroke-linecap="butt"/>
<line x1="1685.60" y1="1564.10" x2="1685.60" y2="1580.50" stroke="#000" stroke-width="4.6" stroke-linecap="butt"/>
<text font-size="30.30" text-anchor="end" stroke="#000" stroke-width="0.7" transform="translate(1390.90,1607.80) rotate(-45) scale(1,1.01)"><tspan font-weight="bold">Mock</tspan></text>
<text font-size="30.30" text-anchor="end" stroke="#000" stroke-width="0.7" transform="translate(1466.30,1607.80) rotate(-45) scale(1,1.0171)"><tspan font-weight="bold">RNP only</tspan></text>
<text font-size="30.30" text-anchor="end" stroke="#000" stroke-width="0.7" transform="translate(1541.80,1607.80) rotate(-45) scale(1,1.04)"><tspan font-weight="bold">UNT</tspan></text>
<text font-size="30.30" text-anchor="end" stroke="#000" stroke-width="0.7" transform="translate(1617.40,1607.80) rotate(-45) scale(1,1.0356)"><tspan font-weight="bold">AZD-0.5 µM</tspan></text>
<text font-size="30.30" text-anchor="end" stroke="#000" stroke-width="0.7" transform="translate(1692.30,1607.80) rotate(-45) scale(1,1.036)"><tspan font-weight="bold">AZD-0.25 µM</tspan></text>
<line x1="1475.80" y1="1756.50" x2="1740.90" y2="1756.50" stroke="#000" stroke-width="5.2" stroke-linecap="round"/>
<text font-size="35.49" stroke="#000" stroke-width="0.7" transform="translate(1508.99,1797.10) scale(1,1.04)"><tspan font-weight="bold">RNP+AAV6</tspan></text>
<text font-size="32.56" stroke="#000" stroke-width="0.7" transform="translate(1236.30,1573.71) rotate(-90) scale(1,1.024)"><tspan font-weight="bold">%CXCR4 and SOX17+ cells</tspan></text>
<text font-size="48.66" stroke="#000" stroke-width="0.7" transform="translate(1.65,1989.50)"><tspan font-weight="bold">c</tspan></text>
<text font-size="47.31" stroke="#000" stroke-width="0.6" transform="translate(99.90,1988.60) scale(1,1.0094)"><tspan font-style="italic">CCR5</tspan> gene targeting</text>
<text font-size="47.44" stroke="#000" stroke-width="0.6" transform="translate(253.32,2045.90) scale(1,1.024)">in PSC</text>
<rect x="245.10" y="2348.60" width="39.40" height="125.90" fill="#fff" stroke="#000" stroke-width="4.6"/>
<rect x="312.50" y="2165.80" width="39.40" height="308.70" fill="#fff" stroke="#000" stroke-width="4.6"/>
<rect x="379.50" y="2165.80" width="39.40" height="308.70" fill="#fff" stroke="#000" stroke-width="4.6"/>
<rect x="447.20" y="2187.30" width="39.40" height="287.20" fill="#fff" stroke="#000" stroke-width="4.6"/>
<line x1="152.40" y1="2113.30" x2="152.40" y2="2476.50" stroke="#000" stroke-width="3.8" stroke-linecap="butt"/>
<line x1="137.40" y1="2474.50" x2="511.00" y2="2474.50" stroke="#000" stroke-width="3.8" stroke-linecap="butt"/>
<line x1="137.50" y1="2474.50" x2="152.40" y2="2474.50" stroke="#000" stroke-width="3.8" stroke-linecap="butt"/>
<text font-size="27.00" stroke="#000" stroke-width="0.7" transform="translate(115.09,2484.19) scale(1,1.04)"><tspan font-weight="bold">0</tspan></text>
<line x1="137.50" y1="2402.66" x2="152.40" y2="2402.66" stroke="#000" stroke-width="3.8" stroke-linecap="butt"/>
<text font-size="27.00" stroke="#000" stroke-width="0.7" transform="translate(100.11,2412.35) scale(1,1.04)"><tspan font-weight="bold">20</tspan></text>
<line x1="137.50" y1="2330.82" x2="152.40" y2="2330.82" stroke="#000" stroke-width="3.8" stroke-linecap="butt"/>
<text font-size="27.00" stroke="#000" stroke-width="0.7" transform="translate(100.11,2340.51) scale(1,1.04)"><tspan font-weight="bold">40</tspan></text>
<line x1="137.50" y1="2258.98" x2="152.40" y2="2258.98" stroke="#000" stroke-width="3.8" stroke-linecap="butt"/>
<text font-size="27.00" stroke="#000" stroke-width="0.7" transform="translate(100.11,2268.67) scale(1,1.04)"><tspan font-weight="bold">60</tspan></text>
<line x1="137.50" y1="2187.14" x2="152.40" y2="2187.14" stroke="#000" stroke-width="3.8" stroke-linecap="butt"/>
<text font-size="27.00" stroke="#000" stroke-width="0.7" transform="translate(100.11,2196.83) scale(1,1.04)"><tspan font-weight="bold">80</tspan></text>
<line x1="137.50" y1="2115.30" x2="152.40" y2="2115.30" stroke="#000" stroke-width="3.8" stroke-linecap="butt"/>
<text font-size="27.00" stroke="#000" stroke-width="0.7" transform="translate(85.12,2124.99) scale(1,1.04)"><tspan font-weight="bold">100</tspan></text>
<line x1="197.40" y1="2474.50" x2="197.40" y2="2489.50" stroke="#000" stroke-width="3.8" stroke-linecap="butt"/>
<line x1="264.20" y1="2474.50" x2="264.20" y2="2489.50" stroke="#000" stroke-width="3.8" stroke-linecap="butt"/>
<line x1="331.60" y1="2474.50" x2="331.60" y2="2489.50" stroke="#000" stroke-width="3.8" stroke-linecap="butt"/>
<line x1="398.60" y1="2474.50" x2="398.60" y2="2489.50" stroke="#000" stroke-width="3.8" stroke-linecap="butt"/>
<line x1="466.30" y1="2474.50" x2="466.30" y2="2489.50" stroke="#000" stroke-width="3.8" stroke-linecap="butt"/>
<circle cx="197.40" cy="2474.50" r="7" fill="#000"/>
<circle cx="264.50" cy="2345.10" r="7" fill="#000"/>
<circle cx="331.70" cy="2161.60" r="7" fill="#000"/>
<circle cx="398.80" cy="2161.60" r="7" fill="#000"/>
<circle cx="466.00" cy="2183.50" r="7" fill="#000"/>
<text font-size="27.30" stroke="#000" stroke-width="0.7" transform="translate(207.09,2565.75) rotate(-90) scale(1,1.01)"><tspan font-weight="bold">Mock</tspan></text>
<text font-size="27.30" stroke="#000" stroke-width="0.7" transform="translate(273.89,2551.83) rotate(-90) scale(1,1.04)"><tspan font-weight="bold">UNT</tspan></text>
<text font-size="27.30" stroke="#000" stroke-width="0.7" transform="translate(341.29,2578.17) rotate(-90) scale(1,1.032)"><tspan font-weight="bold">0.5 µM</tspan></text>
<text font-size="27.30" stroke="#000" stroke-width="0.7" transform="translate(408.29,2593.32) rotate(-90) scale(1,1.0333)"><tspan font-weight="bold">0.25 µM</tspan></text>
<text font-size="27.30" stroke="#000" stroke-width="0.7" transform="translate(475.99,2578.17) rotate(-90) scale(1,1.032)"><tspan font-weight="bold">0.1 µM</tspan></text>
<line x1="313.50" y1="2605.70" x2="508.20" y2="2605.70" stroke="#000" stroke-width="5" stroke-linecap="round"/>
<text font-size="29.07" stroke="#000" stroke-width="0.7" transform="translate(348.77,2643.40) scale(1,1.04)"><tspan font-weight="bold">AZD7648</tspan></text>
<line x1="236.60" y1="2663.80" x2="512.40" y2="2663.80" stroke="#000" stroke-width="5" stroke-linecap="round"/>
<text font-size="29.25" stroke="#000" stroke-width="0.7" transform="translate(298.70,2705.40) scale(1,1.04)"><tspan font-weight="bold">RNP+AAV6</tspan></text>
<text font-size="28.57" stroke="#000" stroke-width="0.7" transform="translate(61.20,2414.71) rotate(-90) scale(1,1.0025)"><tspan font-weight="bold">% targeted alleles</tspan></text>
<text font-size="48.91" stroke="#000" stroke-width="0.7" transform="translate(605.04,1988.80)"><tspan font-weight="bold">d</tspan></text>
<text font-size="47.49" stroke="#000" stroke-width="0.6" transform="translate(685.33,1989.20) scale(1,1.0018)">Genotype of gene targeted</text>
<text font-size="47.41" stroke="#000" stroke-width="0.6" transform="translate(740.38,2046.00) scale(1,1.0063)">single cell PSC clones</text>
<rect x="807.80" y="2400.97" width="40.80" height="91.93" fill="#000" stroke="#000" stroke-width="5.4"/>
<rect x="807.80" y="2274.81" width="40.80" height="126.17" fill="#b0afb3" stroke="#000" stroke-width="5.4"/>
<rect x="807.80" y="2180.18" width="40.80" height="94.62" fill="#fff" stroke="#000" stroke-width="5.4"/>
<rect x="877.40" y="2464.06" width="40.80" height="28.84" fill="#b0afb3" stroke="#000" stroke-width="5.4"/>
<rect x="877.40" y="2180.18" width="40.80" height="283.88" fill="#fff" stroke="#000" stroke-width="5.4"/>
<rect x="947.30" y="2429.36" width="40.80" height="63.54" fill="#b0afb3" stroke="#000" stroke-width="5.4"/>
<rect x="947.30" y="2180.18" width="40.80" height="249.18" fill="#fff" stroke="#000" stroke-width="5.4"/>
<rect x="1016.60" y="2464.06" width="40.80" height="28.84" fill="#000" stroke="#000" stroke-width="5.4"/>
<rect x="1016.60" y="2369.43" width="40.80" height="94.62" fill="#b0afb3" stroke="#000" stroke-width="5.4"/>
<rect x="1016.60" y="2180.18" width="40.80" height="189.25" fill="#fff" stroke="#000" stroke-width="5.4"/>
<line x1="781.60" y1="2112.40" x2="781.60" y2="2494.90" stroke="#000" stroke-width="3.8" stroke-linecap="butt"/>
<line x1="766.00" y1="2492.90" x2="1083.60" y2="2492.90" stroke="#000" stroke-width="3.8" stroke-linecap="butt"/>
<line x1="766.50" y1="2492.90" x2="781.60" y2="2492.90" stroke="#000" stroke-width="3.8" stroke-linecap="butt"/>
<text font-size="28.60" stroke="#000" stroke-width="0.7" transform="translate(743.57,2503.16) scale(1,1.04)"><tspan font-weight="bold">0</tspan></text>
<line x1="766.50" y1="2429.82" x2="781.60" y2="2429.82" stroke="#000" stroke-width="3.8" stroke-linecap="butt"/>
<text font-size="28.60" stroke="#000" stroke-width="0.7" transform="translate(727.70,2440.08) scale(1,1.04)"><tspan font-weight="bold">20</tspan></text>
<line x1="766.50" y1="2366.73" x2="781.60" y2="2366.73" stroke="#000" stroke-width="3.8" stroke-linecap="butt"/>
<text font-size="28.60" stroke="#000" stroke-width="0.7" transform="translate(727.70,2377.00) scale(1,1.04)"><tspan font-weight="bold">40</tspan></text>
<line x1="766.50" y1="2303.65" x2="781.60" y2="2303.65" stroke="#000" stroke-width="3.8" stroke-linecap="butt"/>
<text font-size="28.60" stroke="#000" stroke-width="0.7" transform="translate(727.70,2313.91) scale(1,1.04)"><tspan font-weight="bold">60</tspan></text>
<line x1="766.50" y1="2240.57" x2="781.60" y2="2240.57" stroke="#000" stroke-width="3.8" stroke-linecap="butt"/>
<text font-size="28.60" stroke="#000" stroke-width="0.7" transform="translate(727.70,2250.83) scale(1,1.04)"><tspan font-weight="bold">80</tspan></text>
<line x1="766.50" y1="2177.48" x2="781.60" y2="2177.48" stroke="#000" stroke-width="3.8" stroke-linecap="butt"/>
<text font-size="28.60" stroke="#000" stroke-width="0.7" transform="translate(711.82,2187.75) scale(1,1.04)"><tspan font-weight="bold">100</tspan></text>
<line x1="766.50" y1="2114.40" x2="781.60" y2="2114.40" stroke="#000" stroke-width="3.8" stroke-linecap="butt"/>
<text font-size="28.60" stroke="#000" stroke-width="0.7" transform="translate(711.82,2124.66) scale(1,1.04)"><tspan font-weight="bold">120</tspan></text>
<line x1="827.80" y1="2492.90" x2="827.80" y2="2507.90" stroke="#000" stroke-width="3.8" stroke-linecap="butt"/>
<line x1="897.40" y1="2492.90" x2="897.40" y2="2507.90" stroke="#000" stroke-width="3.8" stroke-linecap="butt"/>
<line x1="967.30" y1="2492.90" x2="967.30" y2="2507.90" stroke="#000" stroke-width="3.8" stroke-linecap="butt"/>
<line x1="1036.60" y1="2492.90" x2="1036.60" y2="2507.90" stroke="#000" stroke-width="3.8" stroke-linecap="butt"/>
<text font-size="28.80" stroke="#000" stroke-width="0.7" transform="translate(838.02,2575.20) rotate(-90) scale(1,1.04)"><tspan font-weight="bold">UNT</tspan></text>
<text font-size="28.80" stroke="#000" stroke-width="0.7" transform="translate(907.62,2602.99) rotate(-90) scale(1,1.032)"><tspan font-weight="bold">0.5 µM</tspan></text>
<text font-size="28.80" stroke="#000" stroke-width="0.7" transform="translate(977.52,2618.97) rotate(-90) scale(1,1.0333)"><tspan font-weight="bold">0.25 µM</tspan></text>
<text font-size="28.80" stroke="#000" stroke-width="0.7" transform="translate(1046.82,2602.99) rotate(-90) scale(1,1.032)"><tspan font-weight="bold">0.1 µM</tspan></text>
<line x1="867.80" y1="2635.70" x2="1082.30" y2="2635.70" stroke="#000" stroke-width="5.5" stroke-linecap="round"/>
<text font-size="30.82" stroke="#000" stroke-width="0.7" transform="translate(906.73,2677.80) scale(1,1.04)"><tspan font-weight="bold">AZD7648</tspan></text>
<text font-size="30.54" stroke="#000" stroke-width="0.7" transform="translate(684.50,2458.18) rotate(-90) scale(1,1.0022)"><tspan font-weight="bold">Percentage of clones</tspan></text>
<rect x="1167.40" y="2126.90" width="45.50" height="26.90" fill="#000"/>
<rect x="1170.00" y="2182.60" width="40.30" height="21.80" fill="#b0afb3" stroke="#000" stroke-width="5.2"/>
<rect x="1170.00" y="2235.80" width="40.30" height="21.40" fill="#fff" stroke="#000" stroke-width="5.2"/>
<text font-size="30.69" stroke="#000" stroke-width="0.6" transform="translate(1232.55,2152.00) scale(1,1.0067)">Non-targeted</text>
<text font-size="30.54" stroke="#000" stroke-width="0.6" transform="translate(1232.56,2204.30) scale(1,1.0114)">Mono-allelic KI</text>
<text font-size="30.45" stroke="#000" stroke-width="0.6" transform="translate(1232.56,2257.10) scale(1,1.0133)">Bi-allelic KI</text>
<text font-size="48.96" stroke="#000" stroke-width="0.7" transform="translate(1486.34,1989.70)"><tspan font-weight="bold">e</tspan></text>
<text font-size="47.42" stroke="#000" stroke-width="0.6" transform="translate(1553.09,1988.40) scale(1,1.0076)"><tspan font-style="italic">CCR5</tspan> gene targeting with</text>
<text font-size="47.32" stroke="#000" stroke-width="0.6" transform="translate(1635.70,2046.90) scale(1,1.008)">AZD pretreatment</text>
<rect x="1694.90" y="2388.10" width="60.20" height="122.60" fill="#fff" stroke="#000" stroke-width="5.8"/>
<rect x="1795.90" y="2205.80" width="60.20" height="304.90" fill="#fff" stroke="#000" stroke-width="5.8"/>
<rect x="1897.10" y="2404.70" width="60.20" height="106.00" fill="#fff" stroke="#000" stroke-width="5.8"/>
<rect x="1998.80" y="2209.30" width="60.20" height="301.40" fill="#fff" stroke="#000" stroke-width="5.8"/>
<circle cx="1724.70" cy="2368.00" r="7.9" fill="#000"/>
<circle cx="1724.70" cy="2401.20" r="7.9" fill="#000"/>
<circle cx="1825.90" cy="2188.20" r="7.9" fill="#000"/>
<circle cx="1825.90" cy="2212.60" r="7.9" fill="#000"/>
<circle cx="1927.10" cy="2391.70" r="7.9" fill="#000"/>
<circle cx="1927.10" cy="2408.10" r="7.9" fill="#000"/>
<circle cx="2012.70" cy="2205.00" r="7.9" fill="#000"/>
<circle cx="2044.80" cy="2205.00" r="7.9" fill="#000"/>
<line x1="1657.80" y1="2100.70" x2="1657.80" y2="2512.70" stroke="#000" stroke-width="3.9" stroke-linecap="butt"/>
<line x1="1641.50" y1="2510.70" x2="2096.90" y2="2510.70" stroke="#000" stroke-width="3.9" stroke-linecap="butt"/>
<line x1="1641.50" y1="2510.70" x2="1657.80" y2="2510.70" stroke="#000" stroke-width="3.9" stroke-linecap="butt"/>
<text font-size="30.20" stroke="#000" stroke-width="0.7" transform="translate(1616.65,2521.54) scale(1,1.04)"><tspan font-weight="bold">0</tspan></text>
<line x1="1641.50" y1="2429.10" x2="1657.80" y2="2429.10" stroke="#000" stroke-width="3.9" stroke-linecap="butt"/>
<text font-size="30.20" stroke="#000" stroke-width="0.7" transform="translate(1599.89,2439.94) scale(1,1.04)"><tspan font-weight="bold">20</tspan></text>
<line x1="1641.50" y1="2347.50" x2="1657.80" y2="2347.50" stroke="#000" stroke-width="3.9" stroke-linecap="butt"/>
<text font-size="30.20" stroke="#000" stroke-width="0.7" transform="translate(1599.89,2358.34) scale(1,1.04)"><tspan font-weight="bold">40</tspan></text>
<line x1="1641.50" y1="2265.90" x2="1657.80" y2="2265.90" stroke="#000" stroke-width="3.9" stroke-linecap="butt"/>
<text font-size="30.20" stroke="#000" stroke-width="0.7" transform="translate(1599.89,2276.74) scale(1,1.04)"><tspan font-weight="bold">60</tspan></text>
<line x1="1641.50" y1="2184.30" x2="1657.80" y2="2184.30" stroke="#000" stroke-width="3.9" stroke-linecap="butt"/>
<text font-size="30.20" stroke="#000" stroke-width="0.7" transform="translate(1599.89,2195.14) scale(1,1.04)"><tspan font-weight="bold">80</tspan></text>
<line x1="1641.50" y1="2102.70" x2="1657.80" y2="2102.70" stroke="#000" stroke-width="3.9" stroke-linecap="butt"/>
<text font-size="30.20" stroke="#000" stroke-width="0.7" transform="translate(1583.12,2113.54) scale(1,1.04)"><tspan font-weight="bold">100</tspan></text>
<line x1="1725.00" y1="2510.70" x2="1725.00" y2="2527.20" stroke="#000" stroke-width="3.9" stroke-linecap="butt"/>
<line x1="1826.00" y1="2510.70" x2="1826.00" y2="2527.20" stroke="#000" stroke-width="3.9" stroke-linecap="butt"/>
<line x1="1927.20" y1="2510.70" x2="1927.20" y2="2527.20" stroke="#000" stroke-width="3.9" stroke-linecap="butt"/>
<line x1="2028.90" y1="2510.70" x2="2028.90" y2="2527.20" stroke="#000" stroke-width="3.9" stroke-linecap="butt"/>
<text font-size="31.00" text-anchor="end" stroke="#000" stroke-width="0.7" transform="translate(1731.50,2556.20) rotate(-45) scale(1,1.04)"><tspan font-weight="bold">UNT</tspan></text>
<text font-size="31.00" text-anchor="end" stroke="#000" stroke-width="0.7" transform="translate(1832.50,2556.20) rotate(-45) scale(1,1.04)"><tspan font-weight="bold">AZD</tspan></text>
<text font-size="31.00" text-anchor="end" stroke="#000" stroke-width="0.7" transform="translate(1933.70,2556.20) rotate(-45) scale(1,1.028)"><tspan font-weight="bold">preAZD-UNT</tspan></text>
<text font-size="31.00" text-anchor="end" stroke="#000" stroke-width="0.7" transform="translate(2035.40,2556.20) rotate(-45) scale(1,1.0145)"><tspan font-weight="bold">pre+postAZD</tspan></text>
<text font-size="35.18" stroke="#000" stroke-width="0.7" transform="translate(1559.30,2454.88) rotate(-90) scale(1,1.0025)"><tspan font-weight="bold">% targeted alleles</tspan></text>
</svg></body></html>
